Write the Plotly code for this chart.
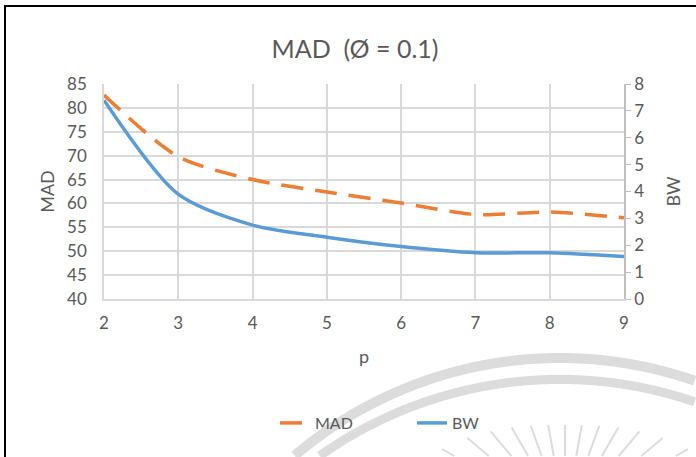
import math
import plotly.graph_objects as go

p_values = [2, 3, 4, 5, 6, 7, 8, 9]
mad_values = [82.7, 69.8, 65.0, 62.4, 60.1, 57.7, 58.2, 57.0]
bw_values = [7.4, 3.9, 2.75, 2.3, 1.95, 1.72, 1.72, 1.58]

W, H = 696, 457
L, R, T, B = 104, 624, 84, 299  # plot area in pixels

def px(x):
    return (x - L) / (R - L)

def py(y):
    return (B - y) / (B - T)

TEXT = "#595959"
GRID = "#D9D9D9"
WM = "#DCDCDC"
FONT = "Lato, 'Open Sans', sans-serif"

fig = go.Figure()
fig.add_trace(go.Scatter(
    x=p_values, y=mad_values, name="MAD", mode="lines",
    line=dict(color="#ED7D31", width=3.5, dash="22px,12px", shape="spline", smoothing=0.8),
    yaxis="y"))
fig.add_trace(go.Scatter(
    x=p_values, y=bw_values, name="BW", mode="lines",
    line=dict(color="#5B9BD5", width=3.5, shape="spline", smoothing=0.8),
    yaxis="y2"))

shapes = []
# chart border (left and top edges visible in the crop)
shapes.append(dict(type="line", xref="paper", yref="paper",
                   x0=px(5), x1=px(5), y0=py(5), y1=py(H),
                   line=dict(color="#000000", width=2), layer="above"))
shapes.append(dict(type="line", xref="paper", yref="paper",
                   x0=px(4), x1=px(W), y0=py(6), y1=py(6),
                   line=dict(color="#000000", width=2), layer="above"))

# watermark arcs, clipped to the canvas
for cx, cy, rr, w in [(560, 767.5, 409.5, 10), (560, 795, 415.6, 9)]:
    pts = []
    for i in range(0, 1801):
        a = math.radians(-90 + i * 0.1)
        x = cx + rr * math.sin(a)
        y = cy - rr * math.cos(a)
        if 0 <= x <= W - 1 and y <= H - 1:
            pts.append((x, y))
    if pts:
        path = "M " + " L ".join(f"{px(x):.5f},{py(y):.5f}" for x, y in pts)
        shapes.append(dict(type="path", xref="paper", yref="paper", path=path,
                           line=dict(color=WM, width=w), layer="below"))

# watermark rays, clipped to the canvas
ccx, ccy = 565, 520
for ang in range(-60, 61, 10):
    r_top = 95 + 0.013 * ang * ang
    a = math.radians(ang)
    x0 = ccx + r_top * math.sin(a)
    y0 = ccy - r_top * math.cos(a)
    if y0 >= H - 1:
        continue
    t = (H - 1 - y0) / (ccy - y0)
    x1 = x0 + t * (ccx - x0)
    y1 = H - 1
    shapes.append(dict(type="line", xref="paper", yref="paper",
                       x0=px(x0), y0=py(y0), x1=px(x1), y1=py(y1),
                       line=dict(color=WM, width=2), layer="below"))

fig.update_layout(
    width=W, height=H,
    margin=dict(l=L, r=W - R, t=T, b=H - B),
    paper_bgcolor="white", plot_bgcolor="rgba(0,0,0,0)",
    font=dict(family=FONT, color=TEXT, size=17),
    title=dict(text="MAD  (Ø = 0.1)", x=(355) / W, xanchor="center",
               y=1 - 49 / H, yanchor="middle",
               font=dict(size=25, color=TEXT, family=FONT)),
    xaxis=dict(range=[2, 9], tickvals=p_values, ticktext=[str(v) for v in p_values],
               showgrid=True, gridcolor=GRID, gridwidth=1.5,
               showline=True, linecolor=GRID, linewidth=1.5,
               ticks="outside", ticklen=8, tickcolor="rgba(0,0,0,0)", zeroline=False,
               title=dict(text="p", standoff=18, font=dict(size=18, color=TEXT)),
               tickfont=dict(size=17, color=TEXT)),
    yaxis=dict(range=[40, 85], dtick=5, showgrid=True, gridcolor=GRID, gridwidth=1.5,
               showline=True, linecolor=GRID, linewidth=1.5,
               ticks="outside", ticklen=12, tickcolor="rgba(0,0,0,0)", zeroline=False,
               title=dict(text="MAD", standoff=8, font=dict(size=18, color=TEXT)),
               tickfont=dict(size=17, color=TEXT)),
    yaxis2=dict(range=[0, 8], dtick=1, overlaying="y", side="right", showgrid=False,
                showline=True, linecolor="#BFBFBF", linewidth=1.5,
                ticks="outside", ticklen=5, tickcolor="#BFBFBF", zeroline=False,
                title=dict(text="BW", standoff=24, font=dict(size=18, color=TEXT)),
                tickfont=dict(size=17, color=TEXT)),
    legend=dict(orientation="h", x=px(412), xanchor="center", y=py(423), yanchor="middle",
                bgcolor="rgba(0,0,0,0)", font=dict(size=16, color=TEXT),
                entrywidth=92, tracegroupgap=0),
    shapes=shapes,
    showlegend=True,
)

fig.write_html("out.html", config={"displayModeBar": False},
               post_script="document.body.style.margin='0';document.body.style.padding='0';"
                           "document.documentElement.style.overflow='hidden';"
                           "document.body.style.overflow='hidden';"
                           "var d=document.querySelector('.plotly-graph-div');"
                           "if(d){d.style.overflow='hidden';}")
